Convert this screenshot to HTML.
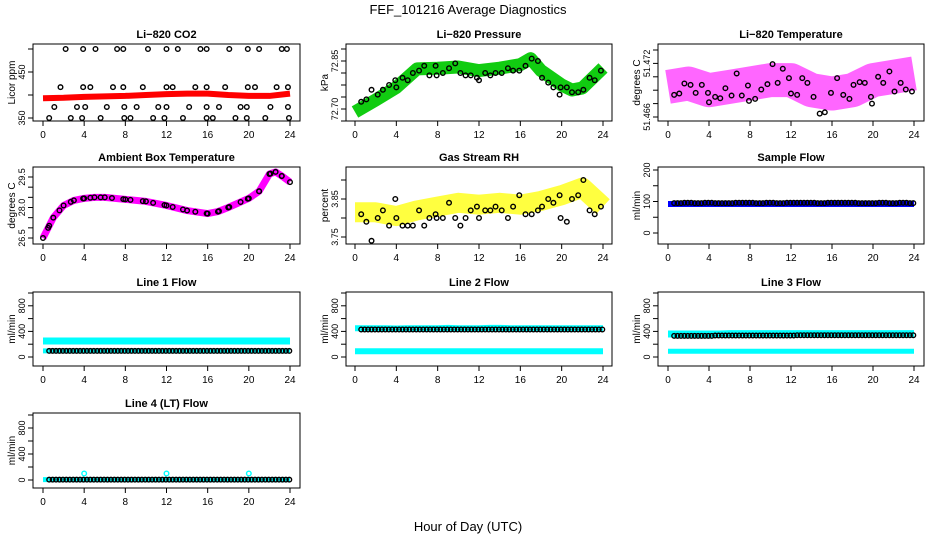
<!DOCTYPE html>
<html><head><meta charset="utf-8"><style>
html,body{margin:0;padding:0;background:#fff}
svg{display:block;font-family:"Liberation Sans",Arial,sans-serif}
</style></head><body>
<svg id="c" width="936" height="540" viewBox="0 0 936 540">
<text x="468" y="14" text-anchor="middle" font-size="13">FEF_101216  Average Diagnostics</text>
<text x="468" y="531" text-anchor="middle" font-size="13">Hour of Day (UTC)</text>
</svg>
<script>
const xTicks=[0,4,8,12,16,20,24];
const co2Hours=[0,2,4,6,8,10,12,14,16,18,20,22,24];
const co2Red=[393,394,396,397,398,400,402,403,403,400,398,398,403];
const co2Levels=[500,417,374,350];
const co2LevelHours=[[2.2,3.9,5.1,7.2,7.8,10.2,12.0,13.1,15.3,15.9,18.1,19.9,21.0,23.2,23.7],[1.7,3.9,4.6,6.8,7.8,9.7,12.0,12.6,14.8,15.9,17.7,19.9,20.6,22.7,23.8],[1.1,3.3,4.1,6.2,7.9,9.1,11.2,12.0,14.2,15.9,17.1,19.2,19.8,22.1,23.8],[0.6,2.7,3.8,5.6,7.9,8.5,10.7,11.8,13.6,15.9,16.5,18.7,19.8,21.6,23.9]];
const presHours=[0,2,4,6,8,10,12,14,16,17,18,20,21,22,24];
const presGreen=[72.6875,72.7375,72.79,72.867,72.87,72.875,72.86,72.87,72.885,72.91,72.86,72.80,72.779,72.7875,72.871];
const ptHours=[0.6,1.1,1.6,2.2,2.7,3.3,3.9,4.0,4.6,5.1,5.6,6.2,6.7,7.2,7.8,7.9,8.5,9.1,9.7,10.2,10.7,11.2,11.8,12.0,12.6,13.1,13.6,14.2,14.8,15.3,15.9,16.5,17.1,17.7,18.1,18.7,19.2,19.8,19.9,20.5,21.0,21.6,22.1,22.7,23.2,23.8];
const presBlack=[72.73,72.74,72.78,72.76,72.78,72.80,72.82,72.79,72.83,72.82,72.85,72.86,72.88,72.84,72.88,72.84,72.85,72.87,72.89,72.85,72.84,72.84,72.83,72.82,72.85,72.84,72.85,72.85,72.87,72.86,72.86,72.88,72.91,72.90,72.83,72.81,72.79,72.76,72.79,72.79,72.77,72.77,72.78,72.83,72.82,72.86];
const tempHours=[0,2,4,6,8,10,12,14,16,18,20,22,24];
const tempMag=[51.4685,51.469,51.468,51.4685,51.469,51.4695,51.4695,51.468,51.4675,51.468,51.4695,51.470,51.4705];
const tempBlack=[51.4673,51.4675,51.4690,51.4688,51.4676,51.4688,51.4676,51.4662,51.4670,51.4668,51.4683,51.4672,51.4705,51.4672,51.4687,51.4664,51.4667,51.4681,51.4689,51.4719,51.4691,51.4712,51.4698,51.4675,51.4673,51.4698,51.4691,51.4670,51.4645,51.4647,51.4676,51.4698,51.4673,51.4667,51.4688,51.4692,51.4691,51.4670,51.4660,51.4700,51.4691,51.4708,51.4678,51.4691,51.4681,51.4678];
const ambHours=[0,0.5,1,2,3,4,5,6,8,10,12,14,16,17,18,20,21,22,22.6,23.2,24];
const ambTemp=[26.5,27.0,27.5,28.1,28.35,28.45,28.5,28.5,28.4,28.3,28.1,27.85,27.7,27.8,28.0,28.45,28.8,29.65,29.75,29.55,29.25];
const rhHours=[0,2,4,6,8,10,12,14,16,18,20,22,24];
const rhYellow=[3.815,3.815,3.805,3.82,3.83,3.84,3.835,3.84,3.835,3.845,3.86,3.88,3.83];
const rhBlack=[3.81,3.79,3.74,3.80,3.82,3.78,3.85,3.80,3.78,3.78,3.78,3.82,3.78,3.80,3.81,3.80,3.80,3.84,3.80,3.78,3.80,3.82,3.83,3.80,3.82,3.82,3.83,3.82,3.80,3.83,3.86,3.81,3.81,3.82,3.83,3.85,3.84,3.86,3.80,3.79,3.85,3.86,3.90,3.82,3.81,3.83];
const flowHoursH=[0,1,2,3,4,5,6,7,8,9,10,11,12,13,14,15,16,17,18,19,20,21,22,23,24];
const sampleBlue=[92,92,92,92,92,92,92,92,92,92,92,92,92,92,92,92,92,92,92,92,92,92,92,92,92];
const sampleBlack=[95,95,96,95,96,95,95,96,96,95,96,95,96,96,96,95,96,96,96,95,95,96,95,96,95];
const l1Cyan=[250,250,250,250,250,250,250,250,250,250,250,250,250,250,250,250,250,250,250,250,250,250,250,250,250];
const l1Black=[95,95,95,95,95,95,95,95,95,95,95,95,95,95,95,95,95,95,95,95,95,95,95,95,95];
const l2CyanHi=[450,450,450,450,445,450,450,450,450,455,450,450,450,455,455,450,450,450,450,450,450,450,450,450,450];
const l2CyanLo=[90,90,90,90,90,90,90,90,90,90,90,90,90,90,90,90,90,90,90,90,90,90,90,90,90];
const l2Black=[430,430,430,430,430,430,430,430,430,430,430,430,430,430,430,430,430,430,430,430,430,430,430,430,430];
const l3CyanHi=[360,360,360,360,360,360,365,365,365,365,365,365,365,365,365,365,365,365,365,365,365,365,365,365,365];
const l3CyanLo=[90,90,90,90,90,90,90,90,90,90,90,90,90,90,90,90,90,90,90,90,90,90,90,90,90];
const l3Black=[330,330,330,330,330,335,335,335,335,335,335,335,335,340,340,340,340,340,340,340,340,340,340,340,340];
const l4Cyan=[5,5,5,5,5,5,5,5,5,5,5,5,5,5,5,5,5,5,5,5,5,5,5,5,5];
const l4Spikes=[4,12,20];
const l4SpikeVal=[100,100,100];
const l4Black=[5,5,5,5,5,5,5,5,5,5,5,5,5,5,5,5,5,5,5,5,5,5,5,5,5];

const NS='http://www.w3.org/2000/svg';
const svg=document.getElementById('c');
function mk(tag,attrs,parent){const e=document.createElementNS(NS,tag);for(const k in attrs)e.setAttribute(k,attrs[k]);(parent||svg).appendChild(e);return e;}
const cols=[{b0:33,b1:300,x0:43,x24:290},{b0:346,b1:612,x0:355,x24:603},{b0:658,b1:924,x0:668,x24:914}];
const rows=[{t:44,b:121},{t:167,b:244},{t:292,b:366},{t:413,b:488}];
function panel(ci,ri,name,title,ylab,yv0,yp0,yv1,yp1,ticks,labels){
  const c=cols[ci],r=rows[ri];
  const g=mk('g',{});
  
  
  const xs=h=>c.x0+h*(c.x24-c.x0)/24;
  const ys=v=>yp0+(v-yv0)*(yp1-yp0)/(yv1-yv0);
  const t=mk('text',{x:(c.b0+c.b1)/2,y:r.t-6,'text-anchor':'middle','font-size':11,'font-weight':'bold'},g);t.textContent=title;
  
  
  const yl=mk('text',{transform:`translate(${c.b0-18},${(r.t+r.b)/2}) rotate(-90)`,'text-anchor':'middle','font-size':10},g);yl.textContent=ylab;
  
  
  const xa=mk('g',{},g);
  
  
  mk('line',{x1:xs(0),x2:xs(24),y1:r.b,y2:r.b,stroke:'#000'},xa);
  xTicks.forEach(h=>{mk('line',{x1:xs(h),x2:xs(h),y1:r.b,y2:r.b+5,stroke:'#000'},xa);
    const tx=mk('text',{x:xs(h),y:r.b+17,'text-anchor':'middle','font-size':10},xa);tx.textContent=h;});
  const ya=mk('g',{},g);
  
  
  mk('line',{x1:c.b0,x2:c.b0,y1:ys(ticks[0]),y2:ys(ticks[ticks.length-1]),stroke:'#000'},ya);
  ticks.forEach((v,i)=>{mk('line',{x1:c.b0-5,x2:c.b0,y1:ys(v),y2:ys(v),stroke:'#000'},ya);
    if(labels[i]){const tx=mk('text',{transform:`translate(${c.b0-8},${ys(v)}) rotate(-90)`,'text-anchor':'middle','font-size':9},ya);tx.textContent=labels[i];}});
  const marks=mk('g',{},g);
  
  
  mk('rect',{x:c.b0,y:r.t,width:c.b1-c.b0,height:r.b-r.t,fill:'none',stroke:'#000'},g);
  return {xs,ys,marks};
}
function band(p,hours,vals,color,w,nm,op){
  const pl=mk('polyline',{points:hours.map((h,i)=>p.xs(h)+','+p.ys(vals[i])).join(' '),fill:'none',stroke:color,'stroke-width':w,'stroke-linejoin':'round','stroke-linecap':'butt',opacity:op||1},p.marks);
  
  
}
function pts(p,hours,vals,color,nm,r){
  hours.forEach((h,i)=>{const e=mk('circle',{cx:p.xs(h),cy:p.ys(vals[i]),r:r||2.3,fill:'none',stroke:color,'stroke-width':1.4},p.marks);
    
    });
}
function flowPts(p,vals,color,nm,offs){
  for(let k=0;k<72;k++){const h=k/3+(offs||0);if(h>24)break;const v=vals[Math.min(24,Math.round(h))];
    const e=mk('circle',{cx:p.xs(h),cy:p.ys(v),r:2.3,fill:'none',stroke:color,'stroke-width':1.4},p.marks);
    
    }
}
// CO2
let p=panel(0,0,'co2','Li\u2212820 CO2','Licor ppm',350,118,500,49,[350,400,450,500],['350','','450','']);
band(p,co2Hours,co2Red,'#f00',6,'co2-red-series');
co2Levels.forEach((lv,i)=>pts(p,co2LevelHours[i],co2LevelHours[i].map(()=>lv),'#000','co2-black-point'));
// Pressure
p=panel(1,0,'pressure','Li\u2212820 Pressure','kPa',72.65,121,72.95,49,[72.65,72.70,72.75,72.80,72.85,72.90,72.95],['','72.70','','','','72.85','']);
band(p,presHours,presGreen,'#1c1',13,'pressure-green-series');
pts(p,ptHours,presBlack,'#000','pressure-black-point');
// Temperature
p=panel(2,0,'li820-temp','Li\u2212820 Temperature','degrees C',51.464,117,51.474,50,[51.464,51.466,51.468,51.470,51.472,51.474],['51.466','','','','51.472','']);
band(p,tempHours,tempMag,'#f0f',34,'temp-magenta-series',0.6);
pts(p,ptHours,tempBlack,'#000','temp-black-point');
// Ambient
p=panel(0,1,'ambient','Ambient Box Temperature','degrees C',26.5,238,29.5,177,[26.5,27.0,27.5,28.0,28.5,29.0,29.5],['26.5','','','28.0','','','29.5']);
band(p,ambHours,ambTemp,'#f0f',7,'ambient-magenta-series');
pts(p,ambHours.concat(ptHours.filter((h,i)=>i%2==0)),ambTemp.concat(ptHours.filter((h,i)=>i%2==0).map(h=>{let j=1;while(ambHours[j]<h)j++;const a=ambHours[j-1],b=ambHours[j];return ambTemp[j-1]+(ambTemp[j]-ambTemp[j-1])*(h-a)/(b-a);})),'#000','ambient-black-point');
// RH
p=panel(1,1,'rh','Gas Stream RH','percent',3.75,237,3.85,199,[3.75,3.80,3.85,3.90],['3.75','','3.85','']);
band(p,rhHours,rhYellow,'#ff0',20,'rh-yellow-series',0.75);
pts(p,ptHours,rhBlack,'#000','rh-black-point');
// Sample flow
p=panel(2,1,'sample-flow','Sample Flow','ml/min',0,233,200,170,[0,50,100,150,200],['0','','100','','200']);
band(p,flowHoursH,sampleBlue,'#00f',6,'sample-blue-series');
flowPts(p,sampleBlack,'#000','sample-black-point',0.6);
// Line flows
const fT=[0,200,400,600,800,1000],fL=['0','','400','','800',''];
p=panel(0,2,'line1','Line 1 Flow','ml/min',0,357,1000,293,fT,fL);
band(p,flowHoursH,l1Cyan,'#0ff',7,'line1-cyan-series');
band(p,flowHoursH,l1Black,'#0ff',5,'line1-cyan-low');
flowPts(p,l1Black,'#000','line1-black-point',0.6);
p=panel(1,2,'line2','Line 2 Flow','ml/min',0,357,1000,293,fT,fL);
band(p,flowHoursH,l2CyanHi,'#0ff',6,'line2-cyan-high');
band(p,flowHoursH,l2CyanLo,'#0ff',6,'line2-cyan-low');
flowPts(p,l2Black,'#000','line2-black-point',0.6);
p=panel(2,2,'line3','Line 3 Flow','ml/min',0,357,1000,293,fT,fL);
band(p,flowHoursH,l3CyanHi,'#0ff',7,'line3-cyan-high');
band(p,flowHoursH,l3CyanLo,'#0ff',5,'line3-cyan-low');
flowPts(p,l3Black,'#000','line3-black-point',0.6);
p=panel(0,3,'line4','Line 4 (LT) Flow','ml/min',0,480,1000,415,fT,fL);
band(p,flowHoursH,l4Cyan,'#0ff',5,'line4-cyan-series');
pts(p,l4Spikes,l4SpikeVal,'#0ff','line4-cyan-spike');
flowPts(p,l4Black,'#000','line4-black-point',0.6);
</script>
</body></html>
